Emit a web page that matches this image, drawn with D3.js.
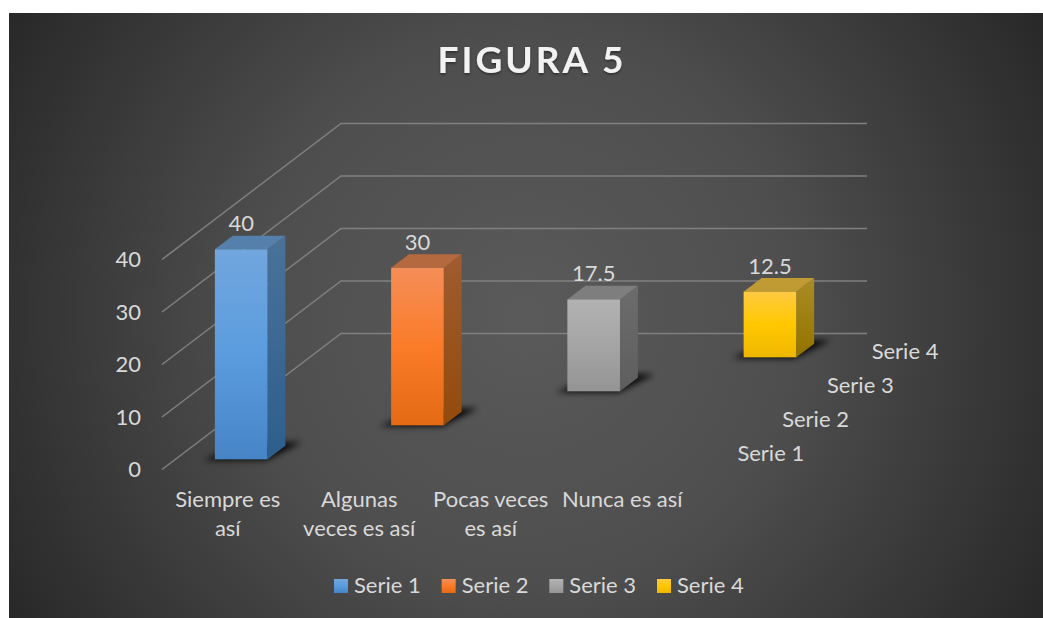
<!DOCTYPE html>
<html><head><meta charset="utf-8">
<script src="https://cdn.jsdelivr.net/npm/d3@7"></script>
<style>html,body{margin:0;padding:0;background:#fff}svg{display:block}text{font-family:Lato,"Open Sans",sans-serif}</style>
</head><body><svg id="c" width="1043" height="618"></svg>
<script>
const categories=[["Siempre es","así"],["Algunas","veces es así"],["Pocas veces","es así"],["Nunca es así"]];
const seriesNames=["Serie 1","Serie 2","Serie 3","Serie 4"];
const values=[40,30,17.5,12.5];
const yTicks=[0,10,20,30,40];
const frontStops=[["#71a6de","#5b9cde","#4684c6"],["#f58e58","#fa7b28","#e46a14"],["#b2b2b2","#a5a5a5","#949494"],["#ffca42","#ffc800","#eeb700"]];
const sideStops=[["#4a7299","#2d5e8c"],["#a05c30","#934a0c"],["#6c6c6c","#5e5e5e"],["#ab8c24","#947200"]];
const topColors=["#5580ab","#b5693f","#7e7e7e","#c09a32"];

const svg=d3.select("#c");
const defs=svg.append("defs");
const bg=defs.append("radialGradient").attr("id","bg").attr("gradientUnits","userSpaceOnUse").attr("cx",526).attr("cy",315).attr("r",600);
[[0,"#5a5a5a"],[.45,"#4e4e4e"],[1,"#282828"]].forEach(s=>bg.append("stop").attr("offset",s[0]).attr("stop-color",s[1]));
svg.append("rect").attr("x",9).attr("y",13).attr("width",1034).attr("height",605).attr("fill","url(#bg)");
const f=defs.append("filter").attr("id","blur").attr("x","-30%").attr("y","-60%").attr("width","160%").attr("height","220%");
f.append("feGaussianBlur").attr("stdDeviation",3);
const ts=defs.append("filter").attr("id","ts");
ts.append("feDropShadow").attr("dx",0).attr("dy",1.5).attr("stdDeviation",1.2).attr("flood-color","#000").attr("flood-opacity",.45);
frontStops.forEach((st,i)=>{const g=defs.append("linearGradient").attr("id","fr"+i).attr("x1",0).attr("x2",0).attr("y1",0).attr("y2",1);
 st.forEach((c,k)=>g.append("stop").attr("offset",k/2).attr("stop-color",c));});
sideStops.forEach((st,i)=>{const g=defs.append("linearGradient").attr("id","si"+i).attr("x1",0).attr("x2",0).attr("y1",0).attr("y2",1);
 st.forEach((c,k)=>g.append("stop").attr("offset",k).attr("stop-color",c));});

// oblique projection built from scales
const xS=d3.scaleBand().domain(d3.range(categories.length)).range([162,688]);
const yS=d3.scaleLinear().domain([0,40]).range([469.5,259.5]);
const dX=d3.scaleLinear().domain([0,4]).range([0,179]);
const dY=d3.scaleLinear().domain([0,4]).range([0,-136]);
const P=(x,d,v)=>[x+dX(d),yS(v)+dY(d)];
const poly=a=>a.map(p=>p.join(",")).join(" ");

// gridlines
svg.append("g").selectAll("polyline").data(yTicks).join("polyline")
 .attr("points",v=>poly([P(xS.range()[0],0,v),P(xS.range()[0],4,v),P(xS.range()[1],4,v)]))
 .attr("fill","none").attr("stroke","#808080").attr("stroke-width",1.5);

// axis
const ax=svg.append("g").attr("transform","translate(150,0)").call(d3.axisLeft(yS).tickValues(yTicks).tickSize(0).tickPadding(9));
ax.select(".domain").remove();
ax.selectAll("text").attr("fill","#d9d9d9").style("font-family","Lato").style("font-size","22px");

// bars
const barW=xS.bandwidth()*.4, pad=xS.bandwidth()*.3, d0=.3, d1=.7;
const bars=svg.append("g").selectAll("g").data(values).join("g");
bars.each(function(v,i){
 const g=d3.select(this), L=xS(i)+pad, R=L+barW, dA=i+d0, dB=i+d1;
 g.append("polygon").attr("points",poly([P(L-10,dA-.03,0),P(R,dA-.03,0),P(R+12,dB+.1,0),P(L+8,dB+.1,0)])).attr("fill","#000").attr("opacity",.9).attr("filter","url(#blur)");
 g.append("polygon").attr("points",poly([P(R,dA,0),P(R,dB,0),P(R,dB,v),P(R,dA,v)])).attr("fill",`url(#si${i})`);
 g.append("polygon").attr("points",poly([P(L,dA,v),P(R,dA,v),P(R,dB,v),P(L,dB,v)])).attr("fill",topColors[i]);
 const a=P(L,dA,v),b=P(R,dA,0);
 g.append("rect").attr("x",a[0]).attr("y",a[1]).attr("width",b[0]-a[0]).attr("height",b[1]-a[1]).attr("fill",`url(#fr${i})`);
 const lp=P((L+R)/2,dB,v);
 g.append("text").attr("x",(a[0]+b[0])/2).attr("y",lp[1]-4.5).attr("text-anchor","middle").attr("fill","#d9d9d9").style("font-size","22px").text(v);
});

// category labels
svg.append("g").selectAll("text").data(categories).join("text")
 .attr("text-anchor","middle").attr("fill","#d9d9d9").style("font-size","22px")
 .each(function(c,i){d3.select(this).selectAll("tspan").data(c).join("tspan")
   .attr("x",xS(i)+xS.bandwidth()/2).attr("y",(t,k)=>507+k*29).text(t=>t);});

// depth labels
svg.append("g").selectAll("text").data(seriesNames).join("text")
 .attr("x",(s,i)=>P(xS.range()[1],i+.5,0)[0]+27).attr("y",(s,i)=>P(xS.range()[1],i+.5,0)[1]+8)
 .attr("fill","#d9d9d9").style("font-size","22px").text(s=>s);

// legend
const lx=d3.scalePoint().domain(seriesNames).range([334,657]);
const lg=svg.append("g").selectAll("g").data(seriesNames).join("g").attr("transform",s=>`translate(${lx(s)},579)`);
lg.append("rect").attr("width",14).attr("height",14).attr("fill",(s,i)=>`url(#fr${i})`);
lg.append("text").attr("x",20).attr("y",14).attr("fill","#d9d9d9").style("font-size","22px").text(s=>s);

// title
svg.append("text").attr("x",532).attr("y",73).attr("text-anchor","middle").attr("fill","#f2f2f2").attr("filter","url(#ts)")
 .style("font-size","37px").style("font-weight",700).style("letter-spacing","3px").text("FIGURA 5");
</script></body></html>
